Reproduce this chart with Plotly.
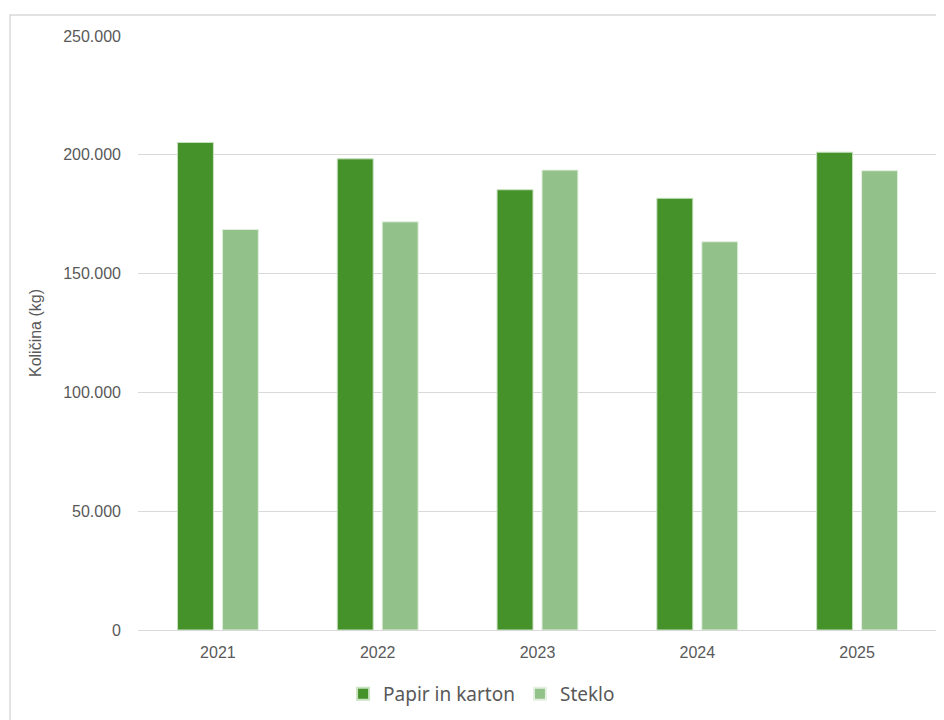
import plotly.graph_objects as go

years = ["2021", "2022", "2023", "2024", "2025"]
papir = [205200, 198300, 185300, 181700, 201100]
steklo = [168600, 171800, 193600, 163400, 193300]
y_ticks = [0, 50000, 100000, 150000, 200000, 250000]
y_tick_labels = ["0", "50.000", "100.000", "150.000", "200.000", "250.000"]

TICKFONT = "Liberation Sans, Arial, sans-serif"
LEGFONT = "Noto Sans, Liberation Sans, Arial, sans-serif"

fig = go.Figure()
fig.add_trace(go.Bar(x=years, y=papir, name="Papir in karton",
                     marker=dict(color="#46922A", line=dict(color="#C9E2C2", width=1))))
fig.add_trace(go.Bar(x=years, y=steklo, name="Steklo",
                     marker=dict(color="#93C18A", line=dict(color="#E3F0E0", width=1))))

fig.update_layout(
    width=936, height=712,
    margin=dict(l=130, r=7, t=28, b=90),
    paper_bgcolor="white", plot_bgcolor="white",
    barmode="group", bargap=0.4375, bargroupgap=0.2,
    font=dict(family=TICKFONT, color="#595959", size=16),
    showlegend=True,
    legend=dict(orientation="h", x=0.43, xanchor="center", y=-0.1077, yanchor="middle",
                font=dict(size=19, family=LEGFONT, color="#595959"),
                itemsizing="constant", traceorder="normal"),
    xaxis=dict(showgrid=False, showline=True, linecolor="#D9D9D9", linewidth=1,
               ticks="", tickfont=dict(size=16), ticklabelstandoff=8),
    yaxis=dict(range=[0, 250000], tickvals=y_ticks, ticktext=y_tick_labels,
               showgrid=True, gridcolor="#D9D9D9", gridwidth=1, zeroline=False,
               showline=False, ticks="", tickfont=dict(size=16), ticklabelstandoff=16,
               title=dict(text="Količina (kg)", font=dict(size=16), standoff=17)),
    shapes=[dict(type="rect", xref="paper", yref="paper",
                 x0=-0.1602, x1=1.05, y0=-0.3, y1=1.0354,
                 line=dict(color="#D9D9D9", width=1.5), fillcolor="rgba(0,0,0,0)", layer="below")],
)

fig.write_html("out.html")
